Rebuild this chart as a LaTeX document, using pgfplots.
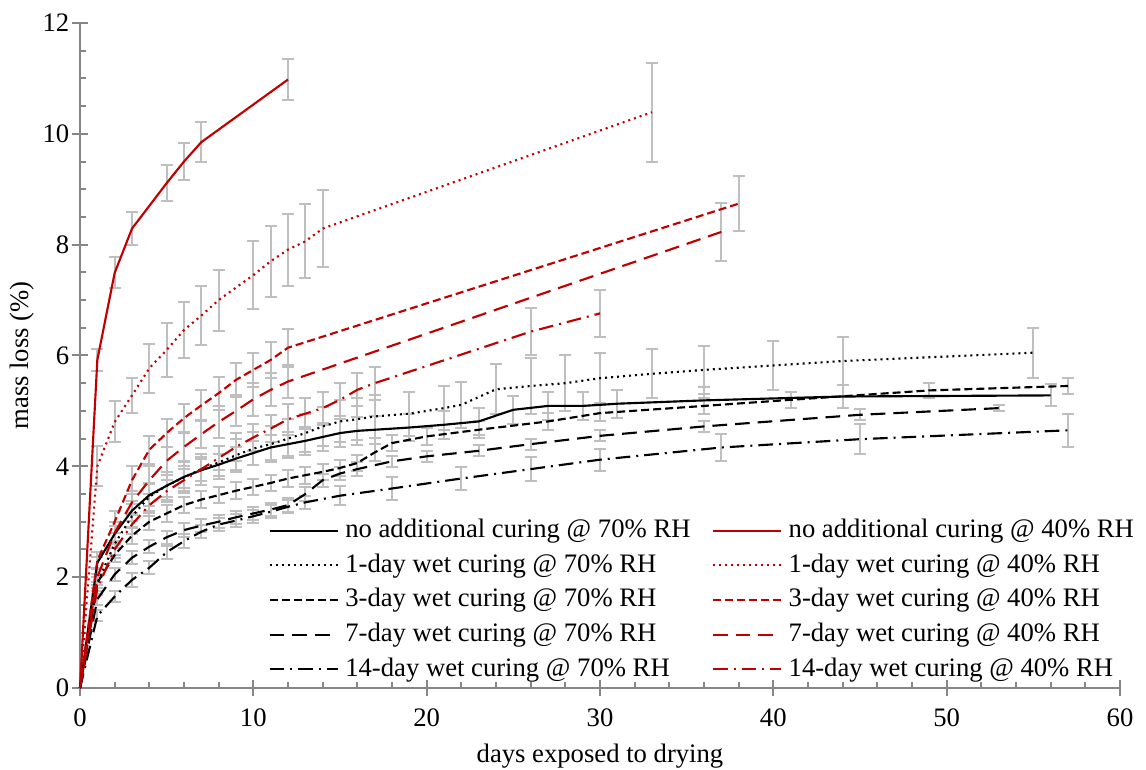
\documentclass[border=0pt]{standalone}
\usepackage{pgfplots}
\pgfplotsset{compat=1.18}
\usepackage{pgfplotstable}
\usepackage{fontspec}
\setmainfont{Liberation Serif}
\definecolor{dred}{HTML}{C00000}
\definecolor{ebar}{HTML}{BFBFBF}
\definecolor{axgray}{HTML}{868686}

% 40% RH series
\pgfplotstableread{
x y e
0 0 0
1 5.92 0.2
2 7.49 0.28
3 8.29 0.3
5 9.11 0.32
6 9.50 0.34
7 9.85 0.36
12 10.98 0.37
}\rNo
\pgfplotstableread{
x y e
0 0 0
1 4.0 0.36
2 4.8 0.37
3 5.28 0.31
4 5.77 0.44
5 6.10 0.48
6 6.46 0.5
7 6.72 0.53
8 7.0 0.55
10 7.45 0.61
11 7.70 0.64
12 7.91 0.65
13 8.06 0.67
14 8.29 0.70
33 10.39 0.89
}\rOne
\pgfplotstableread{
x y e
0 0 0
1 2.3 0.15
2 3.0 0.2
3 3.75 0.25
4 4.3 0.25
5 4.6 0.25
6 4.87 0.25
7 5.1 0.28
8 5.32 0.3
9 5.56 0.3
10 5.74 0.3
11 5.92 0.33
12 6.14 0.34
38 8.74 0.5
}\rThree
\pgfplotstableread{
x y e
0 0 0
1 2.0 0.15
2 2.8 0.2
3 3.35 0.2
4 3.75 0.25
5 4.1 0.25
6 4.35 0.25
7 4.58 0.25
8 4.8 0.28
9 5.0 0.28
10 5.21 0.3
11 5.38 0.3
12 5.53 0.3
37 8.23 0.53
}\rSeven
\pgfplotstableread{
x y e
0 0 0
1 1.8 0.12
2 2.5 0.15
3 2.95 0.18
4 3.3 0.2
5 3.55 0.2
6 3.75 0.2
7 3.95 0.22
8 4.15 0.22
9 4.35 0.25
10 4.52 0.25
11 4.68 0.25
12 4.85 0.28
13 4.95 0.28
14 5.05 0.3
15 5.2 0.3
16 5.38 0.3
17 5.5 0.3
26 6.43 0.42
30 6.76 0.42
}\rFourteen

% 70% RH series
\pgfplotstableread{
x y e
0 0 0
1 2.26 0.1
2 2.78 0.15
3 3.2 0.18
4 3.48 0.2
5 3.65 0.2
6 3.81 0.2
7 3.93 0.2
8 4.03 0.2
9 4.14 0.2
10 4.24 0.22
11 4.34 0.22
12 4.40 0.22
13 4.46 0.25
14 4.53 0.25
15 4.60 0.25
16 4.64 0.25
17 4.66 0.25
19 4.70 0.25
21 4.75 0.25
23 4.81 0.25
25 5.02 0.25
27 5.09 0.25
29 5.09 0.25
31 5.13 0.25
36 5.19 0.25
44 5.26 0.2
56 5.28 0.2
}\bNo
\pgfplotstableread{
x y e
0 0 0
1 1.9 0.15
2 2.6 0.2
3 3.1 0.22
4 3.45 0.25
5 3.65 0.25
6 3.8 0.28
7 3.95 0.28
8 4.07 0.3
9 4.2 0.3
10 4.32 0.3
11 4.4 0.32
12 4.5 0.35
13 4.6 0.35
14 4.72 0.35
15 4.81 0.38
16 4.85 0.38
17 4.9 0.38
19 4.95 0.4
21 5.05 0.4
22 5.11 0.42
24 5.39 0.45
26 5.45 0.5
28 5.5 0.5
30 5.59 0.45
33 5.67 0.44
36 5.74 0.44
40 5.82 0.44
44 5.90 0.44
55 6.05 0.45
}\bOne
\pgfplotstableread{
x y e
0 0 0
1 1.9 0.1
2 2.4 0.12
3 2.75 0.15
4 3.0 0.15
5 3.15 0.15
6 3.3 0.15
7 3.4 0.15
8 3.48 0.15
9 3.56 0.15
10 3.63 0.15
11 3.7 0.15
12 3.78 0.15
13 3.84 0.15
14 3.9 0.15
15 3.97 0.15
16 4.06 0.15
17 4.25 0.15
18 4.42 0.15
20 4.54 0.15
23 4.66 0.15
27 4.81 0.15
30 4.96 0.15
36 5.09 0.15
41 5.2 0.15
49 5.37 0.14
57 5.45 0.15
}\bThree
\pgfplotstableread{
x y e
0 0 0
1 1.6 0.1
2 2.05 0.12
3 2.35 0.12
4 2.55 0.12
5 2.72 0.12
6 2.85 0.12
7 2.93 0.12
8 3.0 0.12
9 3.08 0.12
10 3.15 0.12
11 3.22 0.12
12 3.3 0.12
13 3.5 0.12
14 3.75 0.12
15 3.87 0.12
16 3.95 0.12
18 4.09 0.1
20 4.18 0.1
23 4.28 0.1
26 4.4 0.1
30 4.55 0.1
36 4.72 0.1
45 4.93 0.1
53 5.05 0.06
}\bSeven
\pgfplotstableread{
x y e
0 0 0
1 1.3 0.1
2 1.65 0.1
3 1.95 0.12
4 2.17 0.12
5 2.45 0.12
6 2.65 0.12
7 2.82 0.12
8 2.95 0.12
9 3.02 0.12
10 3.1 0.12
11 3.18 0.12
12 3.27 0.12
13 3.35 0.12
15 3.47 0.17
18 3.6 0.2
22 3.78 0.21
26 3.95 0.22
30 4.12 0.2
37 4.34 0.25
45 4.49 0.27
57 4.65 0.3
}\bFourteen

\pgfplotsset{
  ebars/.style={draw=none, mark=none, forget plot, restrict x to domain=0.5:100,
    error bars/.cd, y dir=both, y explicit,
    error bar style={draw=ebar, line width=1.5pt, solid},
    error mark options={draw=ebar, line width=1.5pt, mark size=4.5pt, rotate=90, solid}},
  lsolid/.style={mark=none, line width=1.6pt, solid},
  ldot/.style={mark=none, line width=1.6pt, dash pattern=on 1.5pt off 3pt},
  ldash/.style={mark=none, line width=1.6pt, dash pattern=on 6pt off 3pt},
  llong/.style={mark=none, line width=1.6pt, dash pattern=on 11pt off 6pt},
  ldashdot/.style={mark=none, line width=1.6pt, dash pattern=on 11pt off 4.5pt on 1.5pt off 4.5pt},
}

\begin{document}
\begin{tikzpicture}
\useasboundingbox (-60pt,-61.5pt) rectangle (799.5pt,516pt);
\begin{axis}[
  at={(0pt,0pt)}, anchor=south west,
  scale only axis, width=780pt, height=498.75pt,
  xmin=0, xmax=60, ymin=0, ymax=12,
  clip=false,
  axis lines=left,
  axis line style={-, draw=axgray, line width=1.5pt},
  xtick={0,10,...,60}, ytick={0,2,...,12},
  minor x tick num=4, minor y tick num=3,
  tick align=inside, major tick length=6pt, minor tick length=4.5pt,
  tick style={draw=axgray, line width=1.5pt},
  extra x ticks={0,10,...,60}, extra x tick labels={},
  extra x tick style={tick align=outside, major tick length=6pt, minor tick num=0},
  extra y ticks={0,2,...,12}, extra y tick labels={},
  extra y tick style={tick align=outside, major tick length=6pt, minor tick num=0},
  /pgf/number format/assume math mode=true,
  ticklabel style={font=\fontsize{20}{24}\selectfont},
  xticklabel style={yshift=-12pt},
  yticklabel style={xshift=-4.5pt},
  xlabel={days exposed to drying},
  ylabel={mass loss (\%)},
  every axis x label/.style={at={(rel axis cs:0.5,0)}, anchor=base, yshift=-56pt, font=\fontsize{20}{24}\selectfont},
  every axis y label/.style={at={(rel axis cs:0,0.5)}, rotate=90, anchor=center, yshift=43.5pt, font=\fontsize{20}{24}\selectfont},
  legend columns=2,
  legend cell align=left,
  legend image code/.code={\draw[#1] (0pt,0pt) -- (51pt,0pt);},
  legend style={at={(rel axis cs:0.181,0.257)}, anchor=north west, draw=none, fill=none,
    inner sep=0pt, font=\fontsize{20}{24}\selectfont, row sep=6pt,
    nodes={inner xsep=5pt, inner ysep=1pt, text height=14pt, text depth=4pt},
    /tikz/every even column/.append style={column sep=11pt}},
]
% error bars first
\addplot[ebars] table[x=x,y=y,y error=e]{\bNo};
\addplot[ebars] table[x=x,y=y,y error=e]{\bOne};
\addplot[ebars] table[x=x,y=y,y error=e]{\bThree};
\addplot[ebars] table[x=x,y=y,y error=e]{\bSeven};
\addplot[ebars] table[x=x,y=y,y error=e]{\bFourteen};
\addplot[ebars] table[x=x,y=y,y error=e]{\rNo};
\addplot[ebars] table[x=x,y=y,y error=e]{\rOne};
\addplot[ebars] table[x=x,y=y,y error=e]{\rThree};
\addplot[ebars] table[x=x,y=y,y error=e]{\rSeven};
\addplot[ebars] table[x=x,y=y,y error=e]{\rFourteen};
% lines, interleaved for legend order
\addplot[black, lsolid] table[x=x,y=y]{\bNo};
\addlegendentry{no additional curing @ 70\% RH}
\addplot[dred, lsolid] table[x=x,y=y]{\rNo};
\addlegendentry{no additional curing @ 40\% RH}
\addplot[black, ldot] table[x=x,y=y]{\bOne};
\addlegendentry{1-day wet curing @ 70\% RH}
\addplot[dred, ldot] table[x=x,y=y]{\rOne};
\addlegendentry{1-day wet curing @ 40\% RH}
\addplot[black, ldash] table[x=x,y=y]{\bThree};
\addlegendentry{3-day wet curing @ 70\% RH}
\addplot[dred, ldash] table[x=x,y=y]{\rThree};
\addlegendentry{3-day wet curing @ 40\% RH}
\addplot[black, llong] table[x=x,y=y]{\bSeven};
\addlegendentry{7-day wet curing @ 70\% RH}
\addplot[dred, llong] table[x=x,y=y]{\rSeven};
\addlegendentry{7-day wet curing @ 40\% RH}
\addplot[black, ldashdot] table[x=x,y=y]{\bFourteen};
\addlegendentry{14-day wet curing @ 70\% RH}
\addplot[dred, ldashdot] table[x=x,y=y]{\rFourteen};
\addlegendentry{14-day wet curing @ 40\% RH}
\end{axis}
\end{tikzpicture}
\end{document}
